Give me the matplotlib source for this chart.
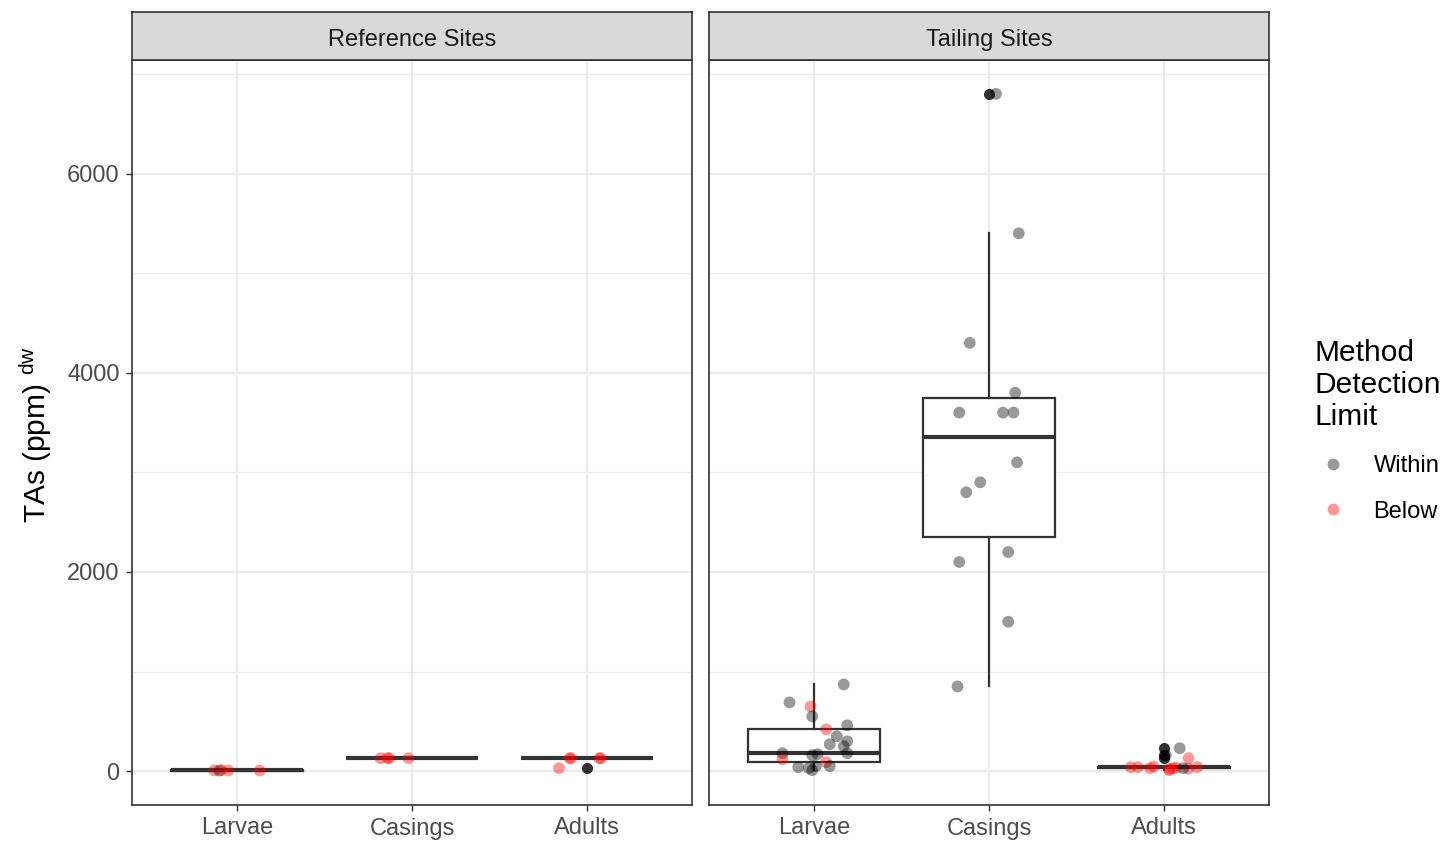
import numpy as np
import matplotlib
matplotlib.use('Agg')
import matplotlib.pyplot as plt
from matplotlib.lines import Line2D

plt.rcParams['font.family'] = ['Liberation Sans', 'DejaVu Sans']
plt.rcParams['mathtext.fontset'] = 'custom'
plt.rcParams['mathtext.rm'] = 'Liberation Sans'
plt.rcParams['mathtext.it'] = 'Liberation Sans:italic'

sites = ['Reference Sites', 'Tailing Sites']
categories = ['Larvae', 'Casings', 'Adults']

# values (ppm dw), detection status (W = within, B = below) and jitter offsets
ref_larvae_vals = [8, 5, 10, 7, 6]
ref_larvae_mdl = ['B', 'W', 'B', 'B', 'B']
ref_larvae_jit = [-0.13, -0.10, -0.09, -0.05, 0.13]

ref_casings_vals = [130, 130, 130, 130]
ref_casings_mdl = ['B', 'B', 'B', 'B']
ref_casings_jit = [-0.18, -0.14, -0.13, -0.02]

ref_adults_vals = [130, 130, 130, 130, 30]
ref_adults_mdl = ['B', 'B', 'B', 'B', 'B']
ref_adults_jit = [-0.10, -0.09, 0.07, 0.08, -0.16]

tail_larvae_vals = [870, 690, 650, 550, 420, 460, 350, 300, 270, 250, 180,
                    180, 120, 170, 160, 90, 40, 50, 10, 50, 30]
tail_larvae_mdl = ['W', 'W', 'B', 'W', 'B', 'W', 'W', 'W', 'W', 'W', 'W',
                   'W', 'B', 'W', 'W', 'B', 'W', 'W', 'W', 'W', 'W']
tail_larvae_jit = [0.17, -0.14, -0.02, -0.01, 0.07, 0.19, 0.13, 0.19, 0.09, 0.17, 0.19,
                   -0.18, -0.18, 0.02, -0.01, 0.07, -0.09, 0.09, -0.01, 0.01, -0.03]

tail_casings_vals = [6800, 5400, 4300, 3800, 3600, 3600, 3600, 3100, 2900, 2800,
                     2200, 2100, 1500, 850]
tail_casings_mdl = ['W'] * 14
tail_casings_jit = [0.04, 0.17, -0.11, 0.15, -0.17, 0.08, 0.14, 0.16, -0.05, -0.13,
                    0.11, -0.17, 0.11, -0.18]

tail_adults_vals = [230, 160, 130, 40, 40, 30, 45, 20, 30, 35, 25, 40, 30, 10]
tail_adults_mdl = ['W', 'W', 'B', 'B', 'B', 'B', 'B', 'B', 'B', 'B', 'B', 'B', 'W', 'B']
tail_adults_jit = [0.09, 0.01, 0.14, -0.19, -0.15, -0.08, -0.06, 0.03, 0.05, 0.07,
                   0.14, 0.19, 0.11, 0.03]

groups = {
    'Reference Sites': [(ref_larvae_vals, ref_larvae_mdl, ref_larvae_jit),
                        (ref_casings_vals, ref_casings_mdl, ref_casings_jit),
                        (ref_adults_vals, ref_adults_mdl, ref_adults_jit)],
    'Tailing Sites': [(tail_larvae_vals, tail_larvae_mdl, tail_larvae_jit),
                      (tail_casings_vals, tail_casings_mdl, tail_casings_jit),
                      (tail_adults_vals, tail_adults_mdl, tail_adults_jit)],
}

W, H = 1448, 844
fig = plt.figure(figsize=(W / 100, H / 100), dpi=100)
fig.patch.set_facecolor('white')

panel_left = [132, 709]
panel_w = 560
panel_top, panel_bot = 60, 805
strip_h = 48
mdl_color = {'W': 'black', 'B': 'red'}

for k, site in enumerate(sites):
    x0 = panel_left[k] / W
    ax = fig.add_axes([x0, 1 - panel_bot / H, panel_w / W, (panel_bot - panel_top) / H])
    ax.set_xlim(0.4, 3.6)
    ax.set_ylim(-340, 7140)
    ax.set_yticks([0, 2000, 4000, 6000])
    ax.set_yticks([1000, 3000, 5000, 7000], minor=True)
    ax.set_xticks([1, 2, 3])
    ax.set_xticklabels(categories)
    ax.grid(True, which='major', color='#EBEBEB', linewidth=1.6, zorder=0)
    ax.grid(True, which='minor', axis='y', color='#EBEBEB', linewidth=0.8, zorder=0)
    ax.set_axisbelow(True)
    ax.tick_params(axis='both', which='major', length=4, width=1, color='#333333',
                   labelsize=17, labelcolor='#4D4D4D', pad=5)
    ax.tick_params(axis='y', which='minor', length=0)
    if k == 1:
        ax.tick_params(axis='y', labelleft=False, length=0)
    for s in ax.spines.values():
        s.set_color('#333333')
        s.set_linewidth(1.2)

    for i, (vals, mdl, jit) in enumerate(groups[site]):
        pos = i + 1
        ax.boxplot([vals], positions=[pos], widths=0.75, whis=1.5, patch_artist=True,
                   showcaps=False, manage_ticks=False, zorder=2,
                   boxprops=dict(facecolor='white', edgecolor='#333333', linewidth=1.6),
                   whiskerprops=dict(color='#333333', linewidth=1.6),
                   medianprops=dict(color='#333333', linewidth=3.0, solid_capstyle='butt'),
                   flierprops=dict(marker='o', markerfacecolor='black', markeredgecolor='none',
                                   markersize=8, alpha=0.8))
        xs = pos + np.array(jit)
        cols = [mdl_color[m] for m in mdl]
        ax.scatter(xs, vals, s=72, c=cols, alpha=0.4, edgecolors='none', zorder=3)

    sax = fig.add_axes([x0, 1 - panel_top / H, panel_w / W, strip_h / H])
    sax.set_facecolor('#D9D9D9')
    sax.set_xticks([])
    sax.set_yticks([])
    for s in sax.spines.values():
        s.set_color('#333333')
        s.set_linewidth(1.2)
    sax.text(0.5, 0.42, site, ha='center', va='center', fontsize=17, color='#1A1A1A',
             transform=sax.transAxes)

fig.text(36 / W, 1 - 435 / H, r'TAs (ppm) $^{\mathrm{dw}}$', rotation=90,
         ha='center', va='center', fontsize=21.5, color='black')

handles = [Line2D([], [], marker='o', linestyle='none', markersize=8.5,
                  markerfacecolor='black', markeredgecolor='none', alpha=0.4),
           Line2D([], [], marker='o', linestyle='none', markersize=8.5,
                  markerfacecolor='red', markeredgecolor='none', alpha=0.4)]
leg = fig.legend(handles, ['Within', 'Below'], title='Method\nDetection\nLimit',
                 loc='upper left', bbox_to_anchor=(1298 / W, 1 - 322 / H),
                 frameon=False, fontsize=17, title_fontsize=21.5, alignment='left',
                 labelspacing=1.0, handletextpad=0.9, handlelength=1.6, borderpad=0.2)
leg.get_title().set_linespacing(1.2)

fig.savefig('out.png', dpi=100)
